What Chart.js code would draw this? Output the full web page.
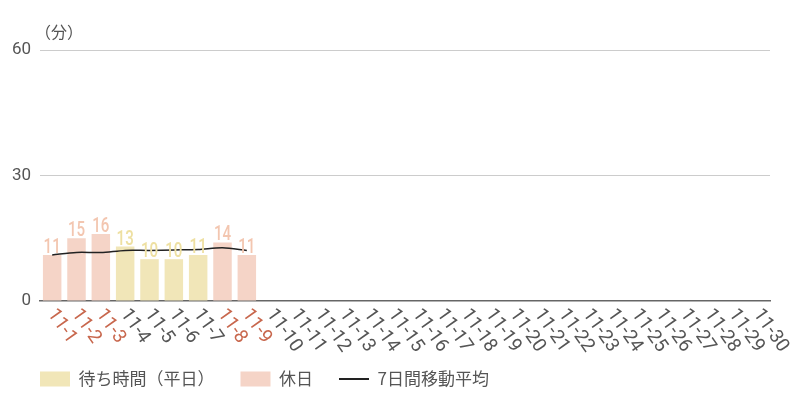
<!DOCTYPE html>
<html>
<head>
<meta charset="utf-8">
<script src="https://cdn.jsdelivr.net/npm/chart.js@4/dist/chart.umd.min.js"></script>
<style>
  html, body { margin: 0; padding: 0; background: #fff; }
  #wrap { width: 800px; height: 400px; }
</style>
</head>
<body>
<div id="wrap"><canvas id="machi"></canvas></div>
<script>
// 日付 (11月)
var days = [];
for (var d = 1; d <= 30; d++) days.push("11-" + d);

// 休日の日付
var holidays = ["11-1", "11-2", "11-3", "11-8", "11-9"];

// 待ち時間 (分)
var weekdayWait = [null, null, null, 13, 10, 10, 11, null, null];
var holidayWait = [11, 15, 16, null, null, null, null, 14, 11];
var movingAvg = [11.0, 11.6, 11.6, 12.1, 12.1, 12.2, 12.3, 12.7, 12.1];

var yTicks = [0, 30, 60];

var grisTexto = "#555555";
var rojoFeriado = "#c8674d";

// etiquetas de valor encima de las barras
var etiquetasBarras = {
    id: "etiquetasBarras",
    afterDatasetsDraw: function(chart) {
        var ctx = chart.ctx;
        [0, 1].forEach(function(i) {
            var meta = chart.getDatasetMeta(i);
            var ds = chart.data.datasets[i];
            meta.data.forEach(function(bar, j) {
                var v = ds.data[j];
                if (v === null || v === undefined) return;
                ctx.save();
                ctx.translate(bar.x, bar.y - 2);
                ctx.scale(0.72, 1);
                ctx.font = "500 21px Roboto";
                ctx.fillStyle = ds.labelColor;
                ctx.textAlign = "center";
                ctx.textBaseline = "alphabetic";
                ctx.fillText(String(v), 0, 0);
                ctx.restore();
            });
        });
    }
};

// fechas giradas (de arriba a la izquierda hacia abajo a la derecha) y unidad
var ejeFechas = {
    id: "ejeFechas",
    afterLayout: function(chart) {
        // la leyenda empieza alineada con el area del grafico
        chart.legend.left += 14;
        chart.legend.right += 14;
    },
    afterDraw: function(chart) {
        var ctx = chart.ctx;
        var x = chart.scales.x;
        var area = chart.chartArea;
        ctx.save();
        ctx.font = "19px Roboto";
        ctx.textAlign = "left";
        ctx.textBaseline = "middle";
        days.forEach(function(lab, i) {
            var px = x.getPixelForTick(i);
            ctx.save();
            ctx.translate(px - 1, area.bottom + 10);
            ctx.rotate(55 * Math.PI / 180);
            ctx.fillStyle = holidays.indexOf(lab) >= 0 ? rojoFeriado : grisTexto;
            ctx.fillText(lab, 0, 0);
            ctx.restore();
        });
        ctx.font = "16px 'Noto Sans CJK JP'";
        ctx.fillStyle = grisTexto;
        ctx.textBaseline = "middle";
        ctx.fillText("（分）", area.left - 5, area.top - 18);
        ctx.restore();
    }
};

new Chart(document.querySelector("#machi"), {
    type: "bar",
    data: {
        labels: days,
        datasets: [{
            label: "待ち時間（平日）",
            data: weekdayWait,
            backgroundColor: "#f1e6b8",
            labelColor: "#eee0a2",
            grouped: false,
            categoryPercentage: 0.8,
            barPercentage: 0.95,
            order: 2
        }, {
            label: "休日",
            data: holidayWait,
            backgroundColor: "#f5d4c7",
            labelColor: "#f3c6b0",
            grouped: false,
            categoryPercentage: 0.8,
            barPercentage: 0.95,
            order: 2
        }, {
            type: "line",
            label: "7日間移動平均",
            data: movingAvg,
            borderColor: "#222222",
            backgroundColor: "#222222",
            borderWidth: 1.5,
            pointRadius: 0,
            tension: 0.3,
            fill: false,
            order: 1
        }]
    },
    options: {
        responsive: true,
        maintainAspectRatio: false,
        animation: false,
        layout: { padding: { top: 50, right: 30, bottom: 2.5, left: 0 } },
        scales: {
            x: {
                grid: { display: false, drawTicks: false },
                border: { display: true, color: "#666666", width: 1.5 },
                ticks: { display: true, color: "rgba(0,0,0,0)", autoSkip: false, maxRotation: 0 },
                afterFit: function(scale) { scale.height = 43.5; }
            },
            y: {
                min: 0,
                max: 60,
                afterBuildTicks: function(scale) {
                    scale.ticks = yTicks.map(function(v) { return { value: v }; });
                },
                grid: {
                    drawTicks: false,
                    color: function(c) { return c.tick && c.tick.value === 0 ? "rgba(0,0,0,0)" : "#cccccc"; }
                },
                border: { display: false },
                ticks: {
                    color: grisTexto,
                    padding: 9,
                    font: { family: "Roboto", size: 17 }
                },
                afterFit: function(scale) { scale.width = 40; }
            }
        },
        plugins: {
            legend: {
                position: "bottom",
                align: "start",
                labels: {
                    usePointStyle: true,
                    pointStyleWidth: 30,
                    boxHeight: 15,
                    padding: 26,
                    color: grisTexto,
                    font: { family: "'Noto Sans CJK JP'", size: 17 },
                    generateLabels: function(chart) {
                        return chart.data.datasets.map(function(ds, i) {
                            var esLinea = ds.type === "line";
                            return {
                                text: ds.label,
                                fillStyle: esLinea ? ds.borderColor : ds.backgroundColor,
                                strokeStyle: esLinea ? ds.borderColor : ds.backgroundColor,
                                lineWidth: esLinea ? 2 : 0,
                                pointStyle: esLinea ? "line" : "rect",
                                fontColor: grisTexto,
                                hidden: false,
                                datasetIndex: i
                            };
                        });
                    }
                }
            },
            tooltip: { enabled: false }
        }
    },
    plugins: [etiquetasBarras, ejeFechas]
});
</script>
</body>
</html>
